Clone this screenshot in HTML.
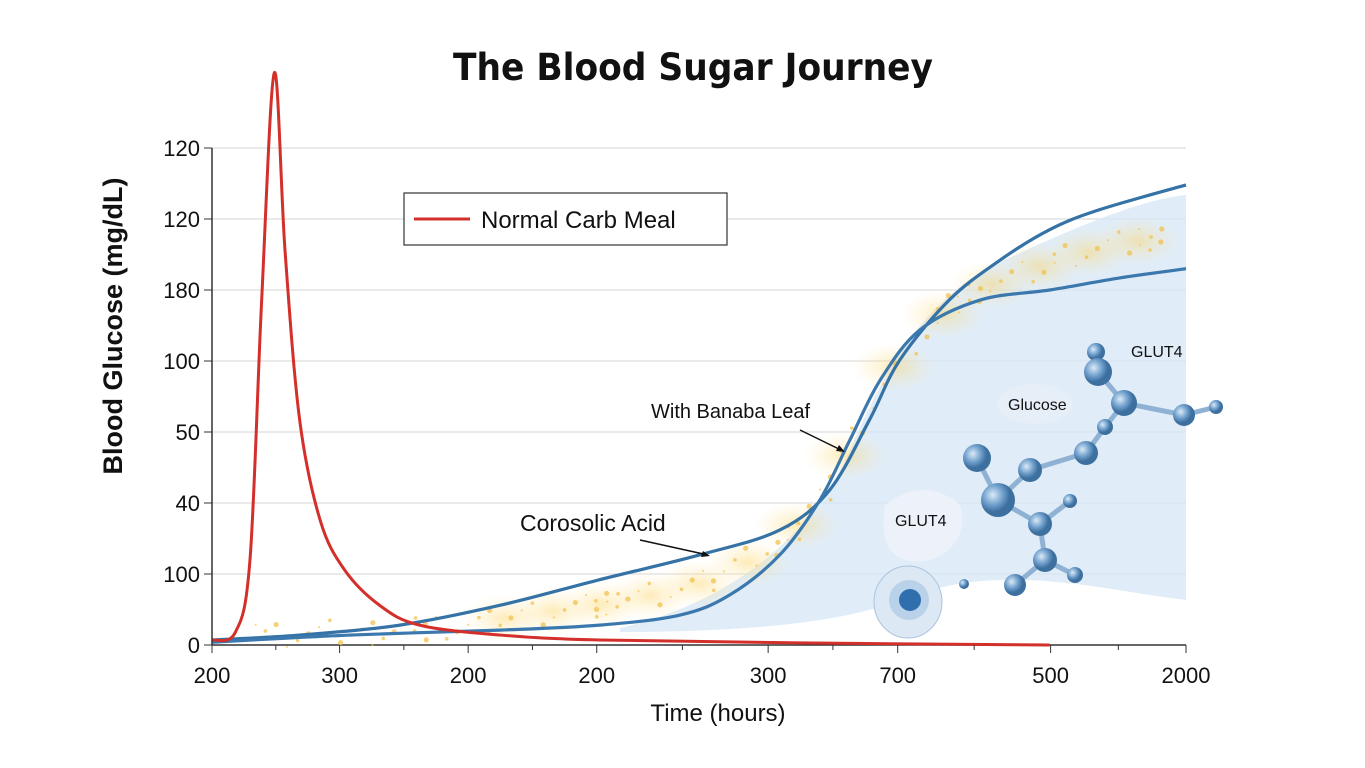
<!DOCTYPE html>
<html><head><meta charset="utf-8"><style>
body{margin:0;background:#fff;font-family:"Liberation Sans",sans-serif}
svg{display:block}
</style></head><body>
<svg width="1365" height="768" viewBox="0 0 1365 768">
<defs>
<radialGradient id="glow"><stop offset="0" stop-color="#fcd56a" stop-opacity="0.8"/><stop offset="1" stop-color="#fde9b0" stop-opacity="0"/></radialGradient>
<radialGradient id="ball" cx="0.35" cy="0.35"><stop offset="0" stop-color="#dbeaf7"/><stop offset="0.6" stop-color="#6f9fcc"/><stop offset="1" stop-color="#3d6f9f"/></radialGradient>
</defs>
<text x="693" y="80" text-anchor="middle" font-size="37" font-weight="bold" fill="#111" font-family="'DejaVu Sans',sans-serif" textLength="480" lengthAdjust="spacingAndGlyphs">The Blood Sugar Journey</text>
<g id="grid"></g>
<g id="band"></g>
<g id="glows"></g>
<g id="series"></g>
<g id="axes"></g>
<text transform="translate(122,326) rotate(-90)" text-anchor="middle" font-size="27" font-weight="bold" fill="#111">Blood Glucose (mg/dL)</text>
<text x="718" y="721" text-anchor="middle" font-size="24" fill="#111">Time (hours)</text>
<g>
<rect x="404" y="193" width="323" height="52" fill="#fff" stroke="#333" stroke-width="1.2"/>
<line x1="414" y1="219" x2="470" y2="219" stroke="#d3302b" stroke-width="3"/>
<text x="481" y="228" font-size="24" fill="#111">Normal Carb Meal</text>
</g>
<g>
<text x="651" y="418" font-size="20" fill="#111">With Banaba Leaf</text>
<line x1="800" y1="430" x2="843" y2="451" stroke="#111" stroke-width="1.5"/>
<path d="M845 452 l-9 -1 l3 -6 z" fill="#111"/>
<text x="520" y="531" font-size="23" fill="#111">Corosolic Acid</text>
<line x1="640" y1="540" x2="708" y2="555" stroke="#111" stroke-width="1.5"/>
<path d="M710 556 l-9 1 l2 -6 z" fill="#111"/>
</g>
<g id="mol">
<g stroke="#8fb2d4" stroke-width="5">
<line x1="1097" y1="352" x2="1098" y2="372"/><line x1="1098" y1="372" x2="1124" y2="403"/><line x1="1124" y1="403" x2="1184" y2="415"/><line x1="1184" y1="415" x2="1216" y2="407"/>
<line x1="1124" y1="403" x2="1105" y2="427"/><line x1="1105" y1="427" x2="1086" y2="453"/><line x1="1086" y1="453" x2="1030" y2="470"/><line x1="1030" y1="470" x2="998" y2="500"/>
<line x1="977" y1="458" x2="998" y2="500"/><line x1="998" y1="500" x2="1040" y2="524"/><line x1="1040" y1="524" x2="1070" y2="501"/><line x1="1040" y1="524" x2="1045" y2="560"/><line x1="1045" y1="560" x2="1015" y2="585"/><line x1="1045" y1="560" x2="1075" y2="575"/>
</g>
<g fill="url(#ball)">
<circle cx="1096" cy="352" r="9"/><circle cx="1098" cy="372" r="14"/><circle cx="1124" cy="403" r="13"/><circle cx="1184" cy="415" r="11"/><circle cx="1216" cy="407" r="7"/>
<circle cx="1105" cy="427" r="8"/><circle cx="1086" cy="453" r="12"/><circle cx="1030" cy="470" r="12"/><circle cx="977" cy="458" r="14"/><circle cx="998" cy="500" r="17"/>
<circle cx="1070" cy="501" r="7"/><circle cx="1040" cy="524" r="12"/><circle cx="1045" cy="560" r="12"/><circle cx="1015" cy="585" r="11"/><circle cx="1075" cy="575" r="8"/><circle cx="964" cy="584" r="5"/>
</g>
<ellipse cx="1035" cy="404" rx="38" ry="20" fill="#e7eef6" opacity="0.9"/>
<text x="1008" y="410" font-size="16" fill="#111">Glucose</text>
<path d="M885 505 q40 -30 75 0 q10 40 -30 55 q-55 10 -45 -55z" fill="#eef3f9" opacity="0.9"/>
<text x="895" y="526" font-size="16" fill="#111">GLUT4</text>
<text x="1131" y="357" font-size="16" fill="#111">GLUT4</text>
<ellipse cx="908" cy="602" rx="34" ry="36" fill="#dce8f4" stroke="#a9c3de"/>
<ellipse cx="909" cy="600" rx="20" ry="20" fill="#b9d2ea"/>
<circle cx="910" cy="600" r="11" fill="#2f6fae"/>
</g>
</svg>
<script>
const NS="http://www.w3.org/2000/svg";
const yTickLabels=["0","100","40","50","100","180","120","120"];
const xTickLabels=["200","300","200","200","300","700","500","2000"];
const xTickPos=[0,13.1,26.3,39.5,57.1,70.4,86.1,100];
const redX=[0,2.4,3.9,5.1,6.4,7.5,9.0,11.1,13.6,17.2,21.3,29.6,39.8,60.3,86.0];
const redY=[0.07,0.18,1.20,4.86,8.06,5.55,3.17,1.76,1.06,0.56,0.28,0.14,0.07,0.03,0];
const blueUX=[0,9.0,19.3,29.6,39.8,50.1,58.3,63.4,67.5,70.6,75.7,80.9,86.0,91.1,100];
const blueUY=[0.07,0.14,0.28,0.56,0.92,1.27,1.62,2.18,3.17,4.01,4.86,5.42,5.85,6.13,6.48];
const blueLX=[0,14.2,29.6,39.8,48.0,53.1,58.3,62.4,65.5,68.6,72.7,78.9,86.0,93.2,100];
const blueLY=[0.04,0.14,0.21,0.28,0.42,0.70,1.27,2.04,2.89,3.73,4.44,4.86,5.0,5.17,5.30];
const X0=212,X1=1186,Y0=645,DY=71;
const xs=v=>X0+(X1-X0)*v/100, ys=v=>Y0-v*DY;
function mk(tag,attrs,parent){const e=document.createElementNS(NS,tag);for(const k in attrs)e.setAttribute(k,attrs[k]);parent.appendChild(e);return e;}
function smooth(X,Y){const p=X.map((x,i)=>[xs(x),ys(Y[i])]);let d="M"+p[0];for(let i=0;i<p.length-1;i++){const a=p[i-1]||p[i],b=p[i],c=p[i+1],e=p[i+2]||c;d+=` C${b[0]+(c[0]-a[0])/6},${b[1]+(c[1]-a[1])/6} ${c[0]-(e[0]-b[0])/6},${c[1]-(e[1]-b[1])/6} ${c[0]},${c[1]}`;}return d;}
const grid=document.getElementById("grid"),axes=document.getElementById("axes");
yTickLabels.forEach((t,i)=>{
 const g=mk("line",{x1:X0,x2:X1,y1:ys(i),y2:ys(i),stroke:i?"#d6d6d6":"#333","stroke-width":i?1:1.5},grid);
 
 
 mk("line",{x1:X0-8,x2:X0,y1:ys(i),y2:ys(i),stroke:"#333"},axes);
 const l=mk("text",{x:X0-12,y:ys(i)+8,"text-anchor":"end","font-size":22,fill:"#111"},axes);l.textContent=t;
 
 
});
mk("line",{x1:X0,x2:X0,y1:ys(7),y2:Y0,stroke:"#333","stroke-width":1.5},axes);
xTickLabels.forEach((t,i)=>{
 const x=xs(xTickPos[i]);
 mk("line",{x1:x,x2:x,y1:Y0,y2:Y0+8,stroke:"#333"},axes);
 if(i<xTickLabels.length-1){const m=(x+xs(xTickPos[i+1]))/2;mk("line",{x1:m,x2:m,y1:Y0,y2:Y0+5,stroke:"#333"},axes);}
 const l=mk("text",{x:x,y:Y0+38,"text-anchor":"middle","font-size":22,fill:"#111"},axes);l.textContent=t;
 
 
});
const band=mk("path",{d:"M620,628 C700,610 800,560 850,450 C880,380 920,300 1000,262 C1080,225 1140,200 1186,195 L1186,600 C1100,590 1000,560 900,600 C850,620 760,632 620,632 Z",fill:"#d6e5f4",opacity:0.75},document.getElementById("band"));


// glows along the midline between the two blue curves
const gl=document.getElementById("glows");
function interp(X,Y,x){for(let i=0;i<X.length-1;i++){if(x<=X[i+1]){const f=(x-X[i])/(X[i+1]-X[i]);return Y[i]+(Y[i+1]-Y[i])*f;}}return Y[Y.length-1];}
const mid=x=>(interp(blueUX,blueUY,x)*0.45+interp(blueLX,blueLY,x)*0.55);
for(let x=30;x<=98;x+=5){mk("ellipse",{cx:xs(x),cy:ys(mid(x)),rx:42,ry:24,fill:"url(#glow)",opacity:0.6},gl);}
for(let i=0;i<110;i++){const x=5+((i*37)%93);const y=ys(mid(x))+((i*7)%29-14);
 mk("circle",{cx:xs(x)+((i*13)%11-5),cy:y,r:1+(i%3)*0.8,fill:"#f2c24e",opacity:0.75},gl);}
const s=document.getElementById("series");
const bu=mk("path",{d:smooth(blueUX,blueUY),fill:"none",stroke:"#3572a6","stroke-width":3.2},s);


const bl=mk("path",{d:smooth(blueLX,blueLY),fill:"none",stroke:"#3a78ad","stroke-width":3.2},s);


const r=mk("path",{d:smooth(redX,redY),fill:"none",stroke:"#d3302b","stroke-width":3},s);


</script>
</body></html>
